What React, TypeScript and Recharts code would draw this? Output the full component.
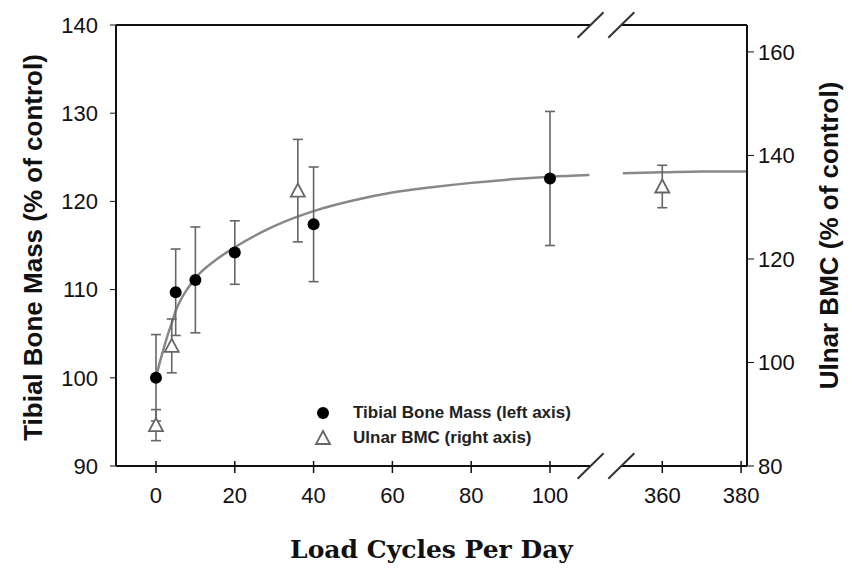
import {
  ComposedChart,
  Line,
  Scatter,
  ErrorBar,
  XAxis,
  YAxis,
  ReferenceLine,
  Legend,
} from "recharts";

// the x axis is broken between ~110 and ~350 cycles
const BREAK_SHIFT = 231.5;
const toAxis = (c: number) => (c > 200 ? c - BREAK_SHIFT : c);
const fromAxis = (v: number) => (v > 120 ? Math.round(v + BREAK_SHIFT) : v);

const xTickLabels = [0, 20, 40, 60, 80, 100, 360, 380];
const leftTicks = [90, 100, 110, 120, 130, 140];
const rightTicks = [80, 100, 120, 140, 160];

const tibialCycles = [0, 5, 10, 20, 40, 100];
const tibialMass = [100, 109.7, 111.1, 114.2, 117.4, 122.6];
const tibialErr = [4.9, 4.9, 6.0, 3.6, 6.5, 7.6];

const ulnarCycles = [0, 4, 36, 360];
const ulnarBMC = [87.9, 103.2, 133.2, 134.0];
const ulnarErr = [3.0, 5.2, 9.9, 4.1];

// fitted curve
const fitCycles = [0, 1, 2, 3, 4, 5, 6, 8, 10, 15, 20, 30, 40, 50, 60, 70, 80, 90, 100, 110];
const fitMass = [
  100, 101.8, 103.4, 104.9, 106.2, 107.6, 108.6, 110.1, 111.3, 113.3, 114.8, 117.2,
  118.9, 120.1, 121.0, 121.6, 122.1, 122.5, 122.8, 123.0,
];
const fitCyclesFar = [350, 360, 370, 381.5];
const fitMassFar = [123.2, 123.3, 123.4, 123.4];

const breaks = [110.3, 118.1];

const tibialPoints = tibialCycles.map((c, i) => ({ x: toAxis(c), y: tibialMass[i], err: tibialErr[i] }));
const ulnarPoints = ulnarCycles.map((c, i) => ({ x: toAxis(c), y: ulnarBMC[i], err: ulnarErr[i] }));
const fitNear = fitCycles.map((c, i) => ({ x: toAxis(c), y: fitMass[i] }));
const fitFar = fitCyclesFar.map((c, i) => ({ x: toAxis(c), y: fitMassFar[i] }));

const X_MIN = -10.15;
const X_MAX = 150;
const AXIS = "#111";
const GREY = "#666";
const tickFont = { fontFamily: "'Liberation Sans', Arial, sans-serif", fontSize: 22, fill: "#111" };

const Dot = (p: any) => <circle cx={p.cx} cy={p.cy} r={6} fill="#000" />;
const Tri = (p: any) => (
  <polygon
    points={`${p.cx},${p.cy - 7} ${p.cx - 7},${p.cy + 6} ${p.cx + 7},${p.cy + 6}`}
    fill="#fff"
    stroke={GREY}
    strokeWidth={1.8}
  />
);

const XTick = (p: any) => {
  const { x, y, payload } = p;
  return (
    <g>
      <line x1={x} x2={x} y1={y - 13} y2={y - 1} stroke={AXIS} strokeWidth={1.5} />
      <text x={x} y={y + 29} textAnchor="middle" {...tickFont}>
        {fromAxis(payload.value)}
      </text>
    </g>
  );
};

const LegendBox = () => (
  <div style={{ fontFamily: "'Liberation Sans', Arial, sans-serif", fontWeight: 700, fontSize: 17, color: "#222" }}>
    <div style={{ display: "flex", alignItems: "center", height: 25 }}>
      <svg width={40} height={20}>
        <circle cx={10} cy={10} r={6} fill="#000" />
      </svg>
      <span>Tibial Bone Mass (left axis)</span>
    </div>
    <div style={{ display: "flex", alignItems: "center", height: 25 }}>
      <svg width={40} height={20}>
        <polygon points="10,3 3,16 17,16" fill="#fff" stroke={GREY} strokeWidth={1.8} />
      </svg>
      <span>Ulnar BMC (right axis)</span>
    </div>
  </div>
);

const titleFont = { fontFamily: "'Liberation Sans', Arial, sans-serif", fontWeight: 700, fontSize: 26, fill: "#111" };

export default function App() {
  const seg = (x1: number, x2: number, y: number) => [
    { x: x1, y },
    { x: x2, y },
  ];
  return (
    <div style={{ position: "absolute", left: 0, top: 0, width: 852, height: 568, background: "#fff" }}>
      <ComposedChart width={852} height={568} margin={{ top: 25, right: 0, bottom: 0, left: 0 }}>
        <XAxis
          dataKey="x"
          type="number"
          domain={[X_MIN, X_MAX]}
          allowDataOverflow
          ticks={xTickLabels.map(toAxis)}
          interval={0}
          axisLine={false}
          tickLine={false}
          tick={XTick}
          height={102}
          label={{
            content: (lp: any) => (
              <text
                x={lp.viewBox.x + lp.viewBox.width / 2}
                y={lp.viewBox.y + 92}
                textAnchor="middle"
                fontFamily="'DejaVu Serif', serif"
                fontWeight={700}
                fontSize={25}
                fill="#111"
              >
                Load Cycles Per Day
              </text>
            ),
          }}
        />
        <YAxis
          yAxisId="left"
          type="number"
          domain={[90, 140]}
          allowDataOverflow
          ticks={leftTicks}
          interval={0}
          width={116}
          axisLine={{ stroke: AXIS, strokeWidth: 2 }}
          tickLine={{ stroke: AXIS }}
          tickSize={6}
          tickMargin={12}
          tick={tickFont}
          label={{
            content: (lp: any) => (
              <text
                transform={`translate(${lp.viewBox.x + 33},${lp.viewBox.y + lp.viewBox.height / 2 + 2}) rotate(-90)`}
                textAnchor="middle"
                dominantBaseline="central"
                {...titleFont}
              >
                Tibial Bone Mass (% of control)
              </text>
            ),
          }}
        />
        <YAxis
          yAxisId="right"
          orientation="right"
          type="number"
          domain={[80, 165.2]}
          allowDataOverflow
          ticks={rightTicks}
          interval={0}
          width={105}
          axisLine={{ stroke: AXIS, strokeWidth: 2 }}
          tickLine={{ stroke: AXIS }}
          tickSize={7}
          tickMargin={4}
          tick={tickFont}
          label={{
            content: (lp: any) => (
              <text
                transform={`translate(${lp.viewBox.x + 82},${lp.viewBox.y + lp.viewBox.height / 2 - 10}) rotate(-90)`}
                textAnchor="middle"
                dominantBaseline="central"
                {...titleFont}
              >
                Ulnar BMC (% of control)
              </text>
            ),
          }}
        />

        {/* frame top and bottom, interrupted at the axis break */}
        <ReferenceLine yAxisId="left" segment={seg(X_MIN, breaks[0], 90)} stroke={AXIS} strokeWidth={2} ifOverflow="visible" />
        <ReferenceLine yAxisId="left" segment={seg(breaks[1], X_MAX, 90)} stroke={AXIS} strokeWidth={2} ifOverflow="visible" />
        <ReferenceLine yAxisId="left" segment={seg(X_MIN, breaks[0], 140)} stroke={AXIS} strokeWidth={2} ifOverflow="visible" />
        <ReferenceLine yAxisId="left" segment={seg(breaks[1], X_MAX, 140)} stroke={AXIS} strokeWidth={2} ifOverflow="visible" />
        {breaks.map((b) =>
          [90, 140].map((y) => (
            <ReferenceLine
              key={`${b}-${y}`}
              yAxisId="left"
              segment={[
                { x: b - 3.3, y: y - 1.45 },
                { x: b + 3.3, y: y + 1.45 },
              ]}
              stroke="#333"
              strokeWidth={2}
              ifOverflow="visible"
            />
          ))
        )}

        <Line data={fitNear} dataKey="y" yAxisId="left" type="monotone" stroke="#888" strokeWidth={2.5} dot={false} isAnimationActive={false} />
        <Line data={fitFar} dataKey="y" yAxisId="left" type="monotone" stroke="#888" strokeWidth={2.5} dot={false} isAnimationActive={false} />

        <Scatter data={tibialPoints} dataKey="y" yAxisId="left" shape={Dot} isAnimationActive={false}>
          <ErrorBar dataKey="err" direction="y" width={5} stroke={GREY} strokeWidth={1.6} isAnimationActive={false} />
        </Scatter>
        <Scatter data={ulnarPoints} dataKey="y" yAxisId="right" shape={Tri} isAnimationActive={false}>
          <ErrorBar dataKey="err" direction="y" width={5} stroke={GREY} strokeWidth={1.6} isAnimationActive={false} />
        </Scatter>

        <Legend
          content={LegendBox}
          layout="horizontal"
          verticalAlign="middle"
          align="center"
          wrapperStyle={{ left: 313, top: 400, width: 320 }}
        />
      </ComposedChart>
    </div>
  );
}
